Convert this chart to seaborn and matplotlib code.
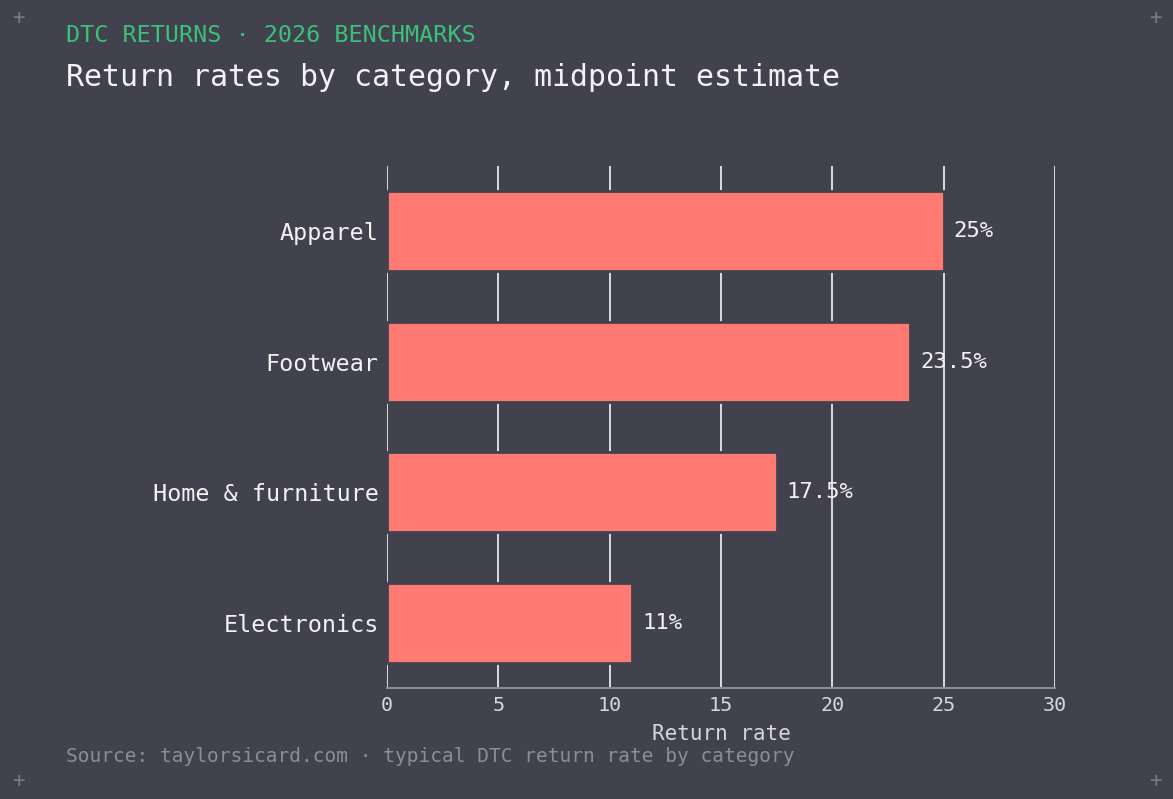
import matplotlib
matplotlib.use("Agg")
import matplotlib.pyplot as plt
import seaborn as sns
import pandas as pd

categories = ["Apparel", "Footwear", "Home & furniture", "Electronics"]
return_rates = [25, 23.5, 17.5, 11]
value_labels = ["25%", "23.5%", "17.5%", "11%"]
x_ticks = [0, 5, 10, 15, 20, 25, 30]

BG = "#42424f"
BAR = "#ff7a72"
GREEN = "#3dbf7c"
GRAY = "#8d8d98"
TICK = "#d6d6dc"
WHITE = "#f2f2f4"

sns.set_theme(style="white")
plt.rcParams["font.family"] = ["DejaVu Sans Mono", "DejaVu Sans"]

df = pd.DataFrame({"category": categories, "rate": return_rates})

fig = plt.figure(figsize=(11.73, 7.99), dpi=100, facecolor=BG)
ax = fig.add_axes([387/1173, 1-688/799, (1055-387)/1173, (688-166)/799])
ax.set_facecolor(BG)

sns.barplot(data=df, x="rate", y="category", color=BAR, saturation=1,
            width=0.615, edgecolor=BG, linewidth=2.0, ax=ax, zorder=3)

ax.set_xlim(0, 30)
ax.set_xticks(x_ticks)
ax.grid(axis="x", color="white", linewidth=1.15, zorder=0)
ax.grid(axis="y", visible=False)
ax.set_axisbelow(True)
for s in ["top", "right", "left"]:
    ax.spines[s].set_visible(False)
ax.spines["bottom"].set_color(GRAY)
ax.spines["bottom"].set_linewidth(1.5)
ax.tick_params(axis="x", length=0, pad=6, labelsize=14.5, labelcolor=TICK)
ax.tick_params(axis="y", length=0, pad=6, labelsize=16.8, labelcolor=WHITE)
ax.set_ylabel("")
ax.set_xlabel("Return rate", fontsize=15, color=TICK, labelpad=6)

for i, (v, lab) in enumerate(zip(return_rates, value_labels)):
    ax.text(v + 0.45, i, lab, va="center", ha="left", fontsize=16, color=WHITE, zorder=5)

fig.text(66/1173, 1-36/799, "DTC RETURNS · 2026 BENCHMARKS", color=GREEN,
         fontsize=16.8, va="center", ha="left")
fig.text(66/1173, 1-77/799, "Return rates by category, midpoint estimate", color=WHITE,
         fontsize=21.5, va="center", ha="left")
fig.text(66/1173, 1-756/799,
         "Source: taylorsicard.com · typical DTC return rate by category",
         color=GRAY, fontsize=14, va="center", ha="left")

for (px, py) in [(18, 18), (1155, 18), (18, 781), (1155, 781)]:
    fig.text(px/1173, 1-py/799, "+", color="#7a7a86", fontsize=15,
             va="center", ha="center")

fig.savefig("out.png", dpi=100, facecolor=BG)
